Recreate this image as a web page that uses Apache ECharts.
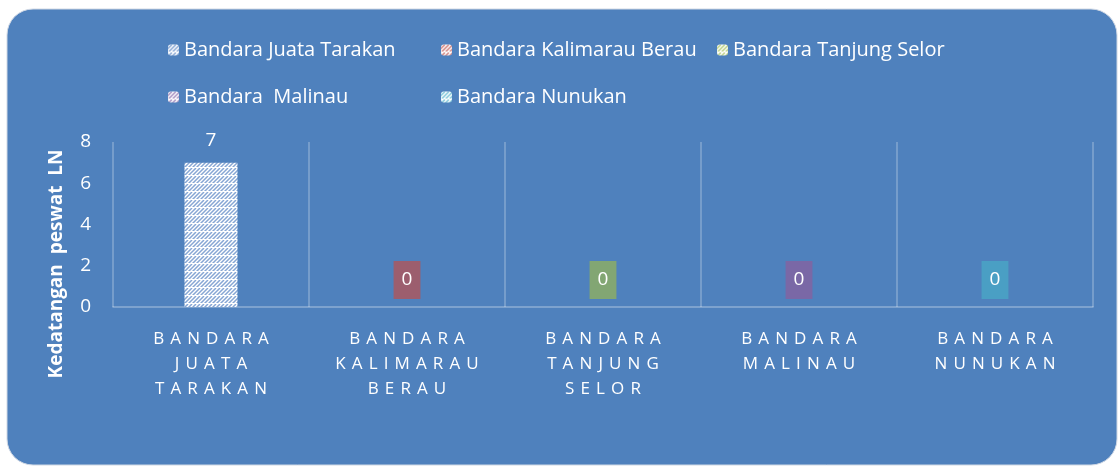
<!DOCTYPE html>
<html>
<head>
<meta charset="utf-8">
<script src="https://cdn.jsdelivr.net/npm/echarts@6/dist/echarts.min.js"></script>
<style>
  html, body { margin: 0; padding: 0; background: #fff; }
  #chart { width: 1118px; height: 466px; }
</style>
</head>
<body>
<div id="chart"></div>
<script>
// data
const categories = ['Bandara Juata Tarakan', 'Bandara Kalimarau Berau', 'Bandara Tanjung Selor', 'Bandara Malinau', 'Bandara Nunukan'];
const seriesNames = ['Bandara Juata Tarakan', 'Bandara Kalimarau Berau', 'Bandara Tanjung Selor', 'Bandara  Malinau', 'Bandara Nunukan'];
const seriesValues = [7, 0, 0, 0, 0]; // each airport only has a value in its own category
const stripeColors = ['#86A6D4', '#D07F7C', '#B9CF7E', '#A48EC0', '#7CC4D8'];
const labelBoxColors = [null, '#9C5E6E', '#82A673', '#7A68A6', '#4A9FC4'];
// legend slots (left, top) like the office legend grid
const legendSlots = [[163, 35], [436, 35], [712, 35], [163, 82], [436, 82]];

const FONT = '"Open Sans", "Noto Sans", sans-serif';

// white tile with dashed upward diagonal stripes
function hatch(color) {
  const c = document.createElement('canvas');
  c.width = c.height = 8;
  const g = c.getContext('2d');
  g.fillStyle = '#fff';
  g.fillRect(0, 0, 8, 8);
  g.strokeStyle = color;
  g.lineWidth = 1.5;
  g.beginPath();
  for (let k = -8; k <= 16; k += 4) {
    g.moveTo(k, 8); g.lineTo(k + 8, 0);
  }
  g.stroke();
  g.fillStyle = '#fff';
  g.fillRect(0, 7, 8, 1);
  return c;
}

function spaced(name) {
  return name.toUpperCase().split(' ')
    .map(w => w.split('').join(' \u200A'))
    .join('\n');
}

const series = seriesNames.map((name, i) => ({
  name: name,
  type: 'bar',
  stack: 'all',
  barWidth: 53,
  data: categories.map((c, j) => (j === i ? seriesValues[i] : '-')),
  itemStyle: { color: { image: hatch(stripeColors[i]), repeat: 'repeat' } },
  label: labelBoxColors[i] ? {
    show: true, position: 'top', distance: 8,
    color: '#fff', fontSize: 19, fontFamily: FONT, lineHeight: 18,
    backgroundColor: labelBoxColors[i], padding: [10, 8]
  } : {
    show: true, position: 'top', distance: 13,
    color: '#fff', fontSize: 19, fontFamily: FONT
  }
}));

const legends = seriesNames.map((name, i) => ({
  data: [name], left: legendSlots[i][0], top: legendSlots[i][1],
  itemWidth: 11, itemHeight: 11, itemGap: 10,
  textStyle: { color: '#fff', fontSize: 20, fontFamily: FONT }
}));

const chart = echarts.init(document.getElementById('chart'));
chart.setOption({
  animation: false,
  graphic: [
    {
      type: 'rect', z: -10, silent: true,
      shape: { x: 7, y: 9, width: 1110, height: 456, r: 26 },
      style: { fill: '#4F81BD', stroke: '#d0d8e4', lineWidth: 1 }
    },
    {
      type: 'text', x: 57, y: 264, rotation: Math.PI / 2,
      style: {
        text: 'Kedatangan  peswat  LN', fill: '#fff',
        font: 'bold 19px ' + FONT, align: 'center', verticalAlign: 'middle'
      }
    }
  ],
  legend: legends,
  grid: { left: 113, right: 25, top: 142, bottom: 159 },
  xAxis: {
    type: 'category',
    data: categories,
    axisLine: { show: true, lineStyle: { color: 'rgba(255,255,255,0.35)', width: 1.5 } },
    axisTick: { show: false },
    splitLine: { show: true, interval: 0, lineStyle: { color: 'rgba(255,255,255,0.3)', width: 1.5 } },
    axisLabel: {
      interval: 0, margin: 20, color: '#fff', fontSize: 17, fontFamily: FONT, lineHeight: 25,
      formatter: v => spaced(v)
    }
  },
  yAxis: {
    type: 'value', min: 0, max: 8, interval: 2,
    axisLine: { show: false },
    axisTick: { show: false },
    splitLine: { show: false },
    axisLabel: { color: '#fff', fontSize: 19, fontFamily: FONT, margin: 22 }
  },
  series: series
});
</script>
</body>
</html>
